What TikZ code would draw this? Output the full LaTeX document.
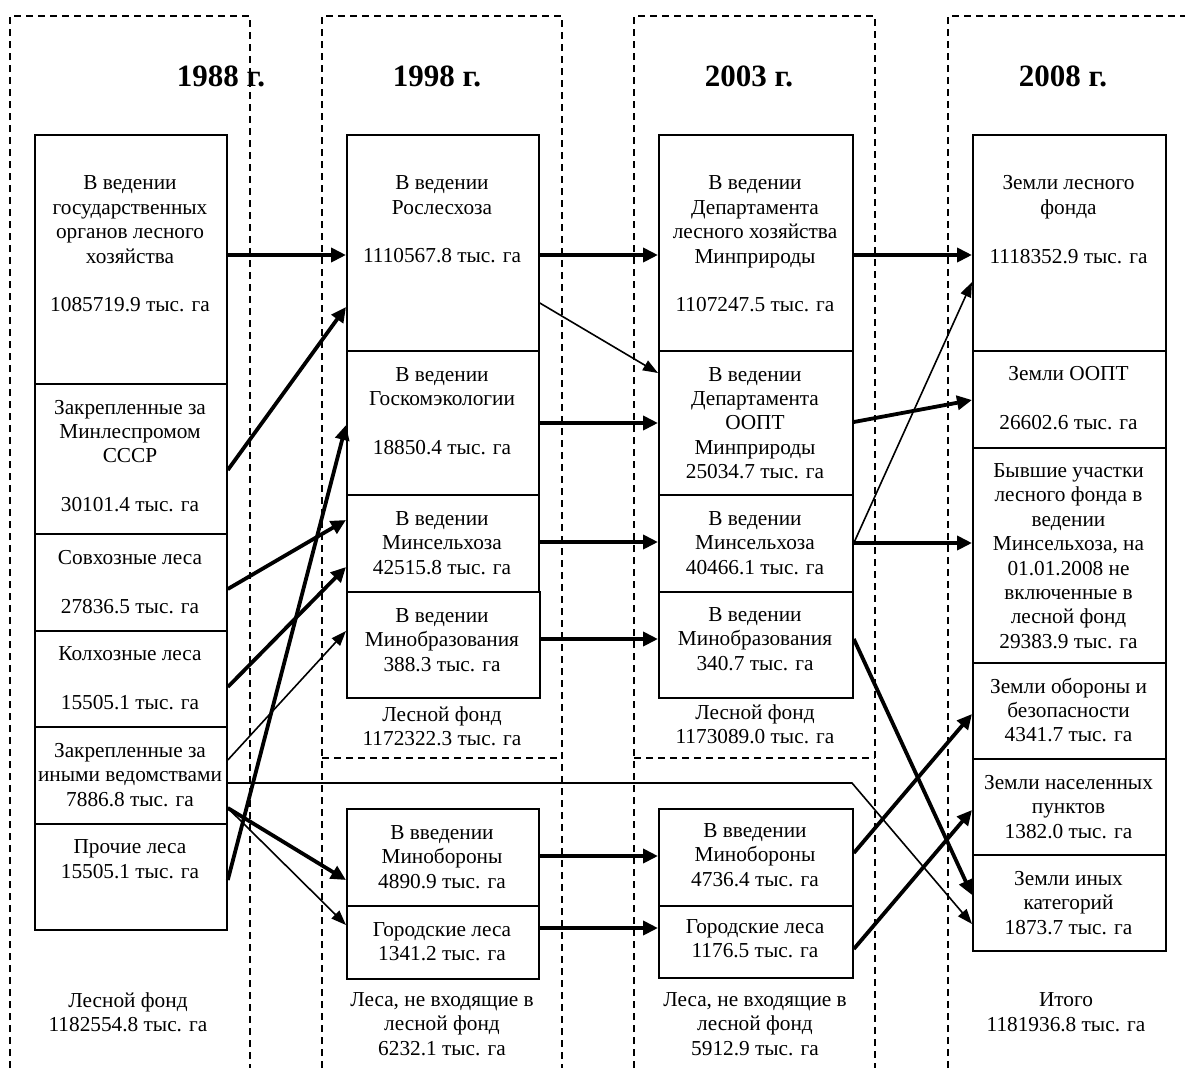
\documentclass[tikz,border=0pt]{standalone}
\usepackage{fontspec}
\setmainfont{Liberation Serif}
\usetikzlibrary{arrows.meta}
\begin{document}
\begin{tikzpicture}[x=1pt,y=-1pt,
  box/.style={draw, line width=1.8pt, inner sep=0pt, anchor=north west},
  txt/.style={align=center, font=\fontsize{21.3}{24.4}\selectfont, inner sep=0pt},
  hdr/.style={font=\fontsize{31}{36}\selectfont\bfseries, inner sep=0pt},
  colline/.style={dash pattern=on 7pt off 5pt, line width=1.7pt},
  thk/.style={line width=3.8pt, -{Triangle[length=15pt,width=14pt]}},
  thn/.style={line width=1.6pt, -{Triangle[length=15pt,width=11pt]}},
]
\useasboundingbox (0,0) rectangle (1185,1068);

% dashed columns
\draw[colline] (10,1068) -- (10,16) -- (250,16) -- (250,1068);
\draw[colline] (322,1068) -- (322,16) -- (562,16) -- (562,1068);
\draw[colline] (634,1068) -- (634,16) -- (875,16) -- (875,1068);
\draw[colline] (948,1068) -- (948,16) -- (1185,16);
\draw[colline] (322,758) -- (562,758);
\draw[colline] (634,758) -- (875,758);

% headers
\node[hdr] (h1) at (221,76) {1988 г.};
\node[hdr] (h2) at (437,76) {1998 г.};
\node[hdr] (h3) at (749,76) {2003 г.};
\node[hdr] (h4) at (1063,76) {2008 г.};

% column 1
\node[box, minimum width=192pt, minimum height=249pt] (b1) at (34,134) {};
\node[box, minimum width=192pt, minimum height=150pt] (b2) at (34,383) {};
\node[box, minimum width=192pt, minimum height=97pt] (b3) at (34,533) {};
\node[box, minimum width=192pt, minimum height=96pt] (b4) at (34,630) {};
\node[box, minimum width=192pt, minimum height=97pt] (b5) at (34,726) {};
\node[box, minimum width=192pt, minimum height=106pt] (b6) at (34,823) {};
\node[txt] (b1t) at (130,244) {В ведении\\государственных\\органов лесного\\хозяйства\\[24.4pt]1085719.9 тыс. га};
\node[txt] (b2t) at (130,456) {Закрепленные за\\Минлеспромом\\СССР\\[24.4pt]30101.4 тыс. га};
\node[txt] (b3t) at (130,582) {Совхозные леса\\[24.4pt]27836.5 тыс. га};
\node[txt] (b4t) at (130,678) {Колхозные леса\\[24.4pt]15505.1 тыс. га};
\node[txt] (b5t) at (130,775) {Закрепленные за\\иными ведомствами\\7886.8 тыс. га};
\node[txt] (b6t) at (130,859) {Прочие леса\\15505.1 тыс. га};
\node[txt] (c1t) at (128,1012) {Лесной фонд\\1182554.8 тыс. га};

% column 2
\node[box, minimum width=192pt, minimum height=216pt] (r1) at (346,134) {};
\node[box, minimum width=192pt, minimum height=144pt] (r2) at (346,350) {};
\node[box, minimum width=192pt, minimum height=97pt] (r3) at (346,494) {};
\node[box, minimum width=193pt, minimum height=106pt] (r4) at (346,591) {};
\node[box, minimum width=192pt, minimum height=97pt] (r5) at (346,808) {};
\node[box, minimum width=192pt, minimum height=73pt] (r6) at (346,905) {};
\node[txt] (r1t) at (442,219.5) {В ведении\\Рослесхоза\\[24.4pt]1110567.8 тыс. га};
\node[txt] (r2t) at (442,411) {В ведении\\Госкомэкологии\\[24.4pt]18850.4 тыс. га};
\node[txt] (r3t) at (442,543) {В ведении\\Минсельхоза\\42515.8 тыс. га};
\node[txt] (r4t) at (442,640) {В ведении\\Минобразования\\388.3 тыс. га};
\node[txt] (c2a) at (442,726) {Лесной фонд\\1172322.3 тыс. га};
\node[txt] (r5t) at (442,857) {В введении\\Минобороны\\4890.9 тыс. га};
\node[txt] (r6t) at (442,941.5) {Городские леса\\1341.2 тыс. га};
\node[txt] (c2b) at (442,1024) {Леса, не входящие в\\лесной фонд\\6232.1 тыс. га};

% column 3
\node[box, minimum width=194pt, minimum height=216pt] (d1) at (658,134) {};
\node[box, minimum width=194pt, minimum height=144pt] (d2) at (658,350) {};
\node[box, minimum width=194pt, minimum height=97pt] (d3) at (658,494) {};
\node[box, minimum width=194pt, minimum height=106pt] (d4) at (658,591) {};
\node[box, minimum width=194pt, minimum height=97pt] (d5) at (658,808) {};
\node[box, minimum width=194pt, minimum height=72pt] (d6) at (658,905) {};
\node[txt] (d1t) at (755,244) {В ведении\\Департамента\\лесного хозяйства\\Минприроды\\[24.4pt]1107247.5 тыс. га};
\node[txt] (d2t) at (755,423) {В ведении\\Департамента\\ООПТ\\Минприроды\\25034.7 тыс. га};
\node[txt] (d3t) at (755,543) {В ведении\\Минсельхоза\\40466.1 тыс. га};
\node[txt] (d4t) at (755,639) {В ведении\\Минобразования\\340.7 тыс. га};
\node[txt] (c3a) at (755,724) {Лесной фонд\\1173089.0 тыс. га};
\node[txt] (d5t) at (755,855) {В введении\\Минобороны\\4736.4 тыс. га};
\node[txt] (d6t) at (755,938.5) {Городские леса\\1176.5 тыс. га};
\node[txt] (c3b) at (755,1024) {Леса, не входящие в\\лесной фонд\\5912.9 тыс. га};

% column 4
\node[box, minimum width=193pt, minimum height=216pt] (z1) at (972,134) {};
\node[box, minimum width=193pt, minimum height=97pt] (z2) at (972,350) {};
\node[box, minimum width=193pt, minimum height=215pt] (z3) at (972,447) {};
\node[box, minimum width=193pt, minimum height=96pt] (z4) at (972,662) {};
\node[box, minimum width=193pt, minimum height=96pt] (z5) at (972,758) {};
\node[box, minimum width=193pt, minimum height=96pt] (z6) at (972,854) {};
\node[txt] (z1t) at (1068.5,219.5) {Земли лесного\\фонда\\[24.4pt]1118352.9 тыс. га};
\node[txt] (z2t) at (1068.5,398) {Земли ООПТ\\[24.4pt]26602.6 тыс. га};
\node[txt] (z3t) at (1068.5,556) {Бывшие участки\\лесного фонда в\\ведении\\Минсельхоза, на\\01.01.2008 не\\включенные в\\лесной фонд\\29383.9 тыс. га};
\node[txt] (z4t) at (1068.5,710) {Земли обороны и\\безопасности\\4341.7 тыс. га};
\node[txt] (z5t) at (1068.5,807) {Земли населенных\\пунктов\\1382.0 тыс. га};
\node[txt] (z6t) at (1068.5,903) {Земли иных\\категорий\\1873.7 тыс. га};
\node[txt] (c4t) at (1066,1012) {Итого\\1181936.8 тыс. га};

% connectors 1988 -> 1998
\draw[thk] ([yshift=-121pt]b1.north east) -- ([yshift=-121pt]r1.north west);
\draw[thk] ([yshift=-87pt]b2.north east) -- ([yshift=-173pt]r1.north west);
\draw[thk] ([yshift=-56pt]b3.north east) -- ([yshift=-26pt]r3.north west);
\draw[thk] ([yshift=-57pt]b4.north east) -- ([yshift=-73pt]r3.north west);
\draw[thn] ([yshift=-34pt]b5.north east) -- ([yshift=-40pt]r4.north west);
\draw[thk] ([yshift=-57pt]b6.north east) -- ([yshift=-75pt]r2.north west);
\draw[thk] ([yshift=-82pt]b5.north east) -- ([yshift=-72pt]r5.north west);
\draw[thn] ([yshift=-82pt]b5.north east) -- ([yshift=-20pt]r6.north west);
\coordinate (bend) at (852,783);
\draw[thn] ([yshift=-57pt]b5.north east) -- (bend) -- ([yshift=-70pt]z6.north west);

% 1998 -> 2003
\draw[thk] ([yshift=-121pt]r1.north east) -- ([yshift=-121pt]d1.north west);
\draw[thn] ([yshift=-169pt]r1.north east) -- ([yshift=-23pt]d2.north west);
\draw[thk] ([yshift=-73pt]r2.north east) -- ([yshift=-73pt]d2.north west);
\draw[thk] ([yshift=-48pt]r3.north east) -- ([yshift=-48pt]d3.north west);
\draw[thk] ([yshift=-48pt]r4.north east) -- ([yshift=-48pt]d4.north west);
\draw[thk] ([yshift=-48pt]r5.north east) -- ([yshift=-48pt]d5.north west);
\draw[thk] ([yshift=-23pt]r6.north east) -- ([yshift=-23pt]d6.north west);

% 2003 -> 2008
\draw[thk] ([yshift=-121pt]d1.north east) -- ([yshift=-121pt]z1.north west);
\draw[thk] ([yshift=-72pt]d2.north east) -- ([yshift=-50pt]z2.north west);
\draw[thn] ([yshift=-49pt]d3.north east) -- ([yshift=-148pt]z1.north west);
\draw[thk] ([yshift=-49pt]d3.north east) -- ([yshift=-96pt]z3.north west);
\draw[thk] ([yshift=-48pt]d4.north east) -- ([yshift=-41pt]z6.north west);
\draw[thk] ([yshift=-45pt]d5.north east) -- ([yshift=-52pt]z4.north west);
\draw[thk] ([yshift=-44pt]d6.north east) -- ([yshift=-52pt]z5.north west);
\end{tikzpicture}
\end{document}
